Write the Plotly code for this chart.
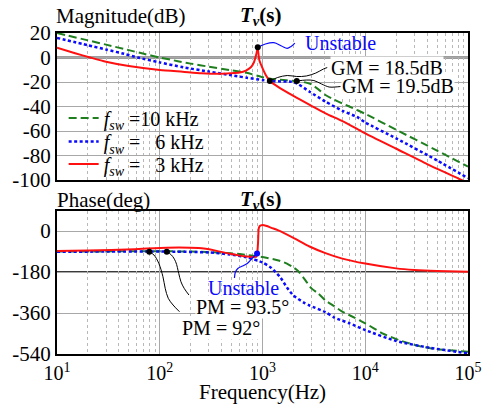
import plotly.graph_objects as go

# ---------------- loop gain Tv(s): magnitude (dB) ----------------
f_mag_10k = [10, 20, 30, 50, 70, 100, 150, 200, 300, 500, 700, 1000, 1300, 1700, 2150,
             2600, 3000, 3500, 4100, 5000, 7000, 10000, 20000, 50000, 100000]
mag_10k = [20, 14, 10.5, 6, 3, 0, -3, -5, -7.5, -10.5, -12.5, -16, -17.8, -18.6, -19.2,
           -20.3, -22, -26, -30.6, -34.5, -40, -46, -59, -76, -89]

f_mag_6k = [10, 20, 30, 45, 61, 100, 170, 300, 500, 700, 1000, 1178, 1500, 1900, 2200,
            2870, 4100, 6000, 8300, 10000, 20000, 50000, 100000]
mag_6k = [16, 10, 6.5, 3, 0, -4, -8, -11.5, -14.5, -16.5, -18.4, -19.2, -19.5, -19.8, -21.5,
          -27.9, -36, -43.5, -48.5, -53, -66, -84, -98.5]

# 3 kHz: split at the resonant peak so the cusp stays sharp
f_mag_3k_lo = [10, 15, 21, 30, 50, 100, 167, 255, 400, 484, 600, 690, 770, 826, 866, 899]
mag_3k_lo = [8, 3.5, 0, -3.5, -7, -10.2, -11.6, -12.8, -13.2, -12.9, -12.3, -10.7, -8, -3.9, 2, 8.3]
f_mag_3k_hi = [899, 931, 986, 1075, 1178, 1406, 2000, 3000, 4100, 6000, 8000, 10000, 20000,
               40000, 80000, 100000]
mag_3k_hi = [8.3, -2, -7.5, -14.3, -19.2, -23.8, -31.4, -39.5, -45.6, -52, -57.5, -62, -74.5,
             -87, -98.6, -102.5]

# ---------------- loop gain Tv(s): phase (deg) ----------------
f_ph_10k = [10, 100, 200, 400, 600, 1000, 1400, 1730, 2000, 2150, 2300, 2480, 3000, 3500,
            4100, 5000, 5870, 7200, 10000, 14700, 21000, 30000, 43000, 60000, 100000]
ph_10k = [-90, -89, -90, -95, -101, -114, -128, -143, -160, -170, -183, -202, -252, -275,
          -305, -330, -352, -372, -405, -449, -478, -500, -515, -522, -530]

f_ph_6k = [10, 100, 300, 484, 700, 1000, 1220, 1500, 1730, 2000, 2500, 2870, 4100, 5000,
           7000, 10000, 20000, 43000, 100000]
ph_6k = [-91, -90, -94, -103, -115, -138, -162, -205, -248, -283, -313, -327, -356, -380,
         -405, -435, -483, -513, -537]

f_ph_3k = [10, 20, 57, 117, 238, 350, 484, 600, 700, 800, 870, 888, 905, 918, 940, 1000,
           1100, 1220, 1406, 2000, 2870, 4100, 5870, 10000, 20000, 30000, 50000, 100000]
ph_3k = [-88, -86, -80, -73, -75, -86, -100, -108, -112, -114, -113, -100, -50, 10, 22, 27,
         22, 14, 4, -30, -68, -97, -120, -143, -164, -171, -176, -179]

# ---------------- marked points ----------------
unstable_mag_f, unstable_mag_v = [899], [8.3]
gm_f, gm_v = [1178, 2154], [-19.2, -19.2]
unstable_ph_f, unstable_ph_v = [885], [-98.8]
pm_f, pm_v = [79.1, 117], [-90.9, -90.9]

# leader lines from labels to marked points (frequency, value)
lead_unst_mag = ([899, 1067, 1291, 1531, 1741, 1896, 2064],
                 [8.3, 11.0, 12.1, 9.4, 7.5, 9.0, 11.8])
lead_gm185 = ([1178, 1406, 1741, 2154, 2666, 3300, 3914, 4266],
              [-19.2, -16.3, -14.7, -15.5, -15.1, -12.7, -9.4, -8.2])
lead_gm195 = ([2154, 2666, 3162, 3751, 4450, 5054, 5743],
              [-19.2, -18.4, -18.8, -21.6, -24.1, -24.1, -23.7])
lead_unst_ph = ([885, 791, 711, 640, 575, 545, 533],
                [-98.8, -120.7, -142.7, -153.7, -164.6, -180, -206.3])
lead_pm92 = ([79.1, 87.9, 97.9, 107.4, 113, 121, 134.8, 155.6],
             [-90.9, -105.4, -141.8, -200.6, -251.5, -295.4, -324.9, -354.3])
lead_pm935 = ([117, 130, 142.8, 153, 160.8, 172.8, 192.4],
              [-90.9, -105.4, -134.8, -185.7, -222.6, -251.5, -281])

mag_ticks = [20, 0, -20, -40, -60, -80, -100]
ph_ticks = [0, -180, -360, -540]
freq_ticks = [10, 100, 1000, 10000, 100000]
freq_ticktext = ["10<sup>1</sup>", "10<sup>2</sup>", "10<sup>3</sup>", "10<sup>4</sup>", "10<sup>5</sup>"]
minor_ticks = [m * 10 ** e for e in range(1, 5) for m in range(2, 10)]

GREEN = "#1f7f1f"
BLUE = "#0a0aff"
RED = "#ff1010"
FONT = "'Liberation Serif', 'Times New Roman', Times, serif"

legend_names = [
    "<i>f</i><sub><i>sw</i></sub> =10 kHz",
    "<i>f</i><sub><i>sw</i></sub> =\u2007\u00a06 kHz",
    "<i>f</i><sub><i>sw</i></sub> =\u2007\u00a03 kHz",
]

green_line = dict(color=GREEN, width=2, dash="8px,4px")
blue_line = dict(color=BLUE, width=2.5, dash="3px,2.5px")
red_line = dict(color=RED, width=2)

fig = go.Figure()

def curve(x, y, line, xa, ya, name=None, legend=None, smooth=0.6):
    fig.add_trace(go.Scatter(
        x=x, y=y, mode="lines", line=dict(shape="spline", smoothing=smooth, **line),
        name=name, showlegend=legend is not None, legend=legend or "legend",
        xaxis=xa, yaxis=ya, hoverinfo="skip"))

# magnitude
curve(f_mag_10k, mag_10k, green_line, "x", "y", legend_names[0], "legend")
curve(f_mag_6k, mag_6k, blue_line, "x", "y", legend_names[1], "legend2")
curve(f_mag_3k_lo, mag_3k_lo, red_line, "x", "y", legend_names[2], "legend3")
curve(f_mag_3k_hi, mag_3k_hi, red_line, "x", "y")

# phase
curve(f_ph_10k, ph_10k, green_line, "x2", "y2")
curve(f_ph_6k, ph_6k, blue_line, "x2", "y2")
curve(f_ph_3k, ph_3k, red_line, "x2", "y2", smooth=0.5)

# leaders
thin_black = dict(color="black", width=1)
thin_blue = dict(color=BLUE, width=1.2)
curve(*lead_unst_mag, thin_blue, "x", "y", smooth=1)
curve(*lead_gm185, thin_black, "x", "y", smooth=1)
curve(*lead_gm195, thin_black, "x", "y", smooth=1)
curve(*lead_unst_ph, thin_blue, "x2", "y2", smooth=1)
curve(*lead_pm92, thin_black, "x2", "y2", smooth=1)
curve(*lead_pm935, thin_black, "x2", "y2", smooth=1)

def dots(x, y, color, xa, ya):
    fig.add_trace(go.Scatter(x=x, y=y, mode="markers", marker=dict(color=color, size=6),
                             showlegend=False, xaxis=xa, yaxis=ya, hoverinfo="skip"))

dots(unstable_mag_f, unstable_mag_v, "black", "x", "y")
dots(gm_f, gm_v, "black", "x", "y")
dots(unstable_ph_f, unstable_ph_v, BLUE, "x2", "y2")
dots(pm_f, pm_v, "black", "x2", "y2")

# layout geometry (pixels of the 494x407 canvas)
L, T, R, B = 48, 33, 480, 354
MAG_BOTTOM, PH_TOP = 180, 211
def px(x):
    return (x - L) / (R - L)
def py(y):
    return (B - y) / (B - T)

axis_common = dict(
    showline=True, mirror=True, linecolor="black", linewidth=2,
    showgrid=True, gridcolor="#a8a8a8", gridwidth=1, zeroline=False, ticks="",
)
x_common = dict(
    type="log", range=[1, 5], tickvals=freq_ticks, ticktext=freq_ticktext,
    tickfont=dict(family=FONT, size=20, color="black"),
    minor=dict(tickvals=minor_ticks, showgrid=True, gridcolor="#b8b8b8",
               griddash="dot", gridwidth=1, ticks=""),
    **axis_common,
)
y_tickfont = dict(family=FONT, size=21, color="black")

def legend_box(row_y):
    return dict(x=px(55), y=py(row_y), xanchor="left", yanchor="middle",
                bgcolor="rgba(255,255,255,0)", borderwidth=0,
                font=dict(family=FONT, size=20, color="black"), itemwidth=30)

fig.update_layout(
    width=494, height=407,
    margin=dict(l=L, r=494 - R, t=T, b=407 - B),
    paper_bgcolor="white", plot_bgcolor="white",
    font=dict(family=FONT, size=20, color="black"),
    xaxis=dict(domain=[0, 1], anchor="y", showticklabels=False, **x_common),
    xaxis2=dict(domain=[0, 1], anchor="y2", matches="x", **x_common),
    yaxis=dict(domain=[py(MAG_BOTTOM), 1], anchor="x", range=[-100, 20], tickvals=mag_ticks,
               ticktext=[str(v) for v in mag_ticks], tickfont=y_tickfont, **axis_common),
    yaxis2=dict(domain=[0, py(PH_TOP)], anchor="x2", range=[-540, 88], tickvals=ph_ticks,
                ticktext=[str(v) for v in ph_ticks], tickfont=y_tickfont, **axis_common),
    legend=legend_box(118),
    legend2=legend_box(141.5),
    legend3=legend_box(164),
    showlegend=True,
)

# white panel behind the legend (covers the grid, sits under the traces)
fig.add_shape(type="rect", xref="x domain", yref="y domain",
              x0=(57 - L) / (R - L), x1=(200 - L) / (R - L),
              y0=(MAG_BOTTOM - 178) / (MAG_BOTTOM - T), y1=(MAG_BOTTOM - 108) / (MAG_BOTTOM - T),
              fillcolor="white", line=dict(width=0), layer="below")

# emphasised reference lines: 0 dB and -180 deg
fig.add_shape(type="line", xref="x domain", yref="y", x0=0, x1=1, y0=0, y1=0,
              line=dict(color="#3a3a3a", width=2), layer="below")
fig.add_shape(type="line", xref="x2 domain", yref="y2", x0=0, x1=1, y0=-180, y1=-180,
              line=dict(color="#3a3a3a", width=2), layer="below")

def label(text, x, y, xanchor="left", color="black", size=20, bg=None):
    fig.add_annotation(text=text, xref="paper", yref="paper", x=px(x), y=py(y),
                       xanchor=xanchor, yanchor="middle", showarrow=False,
                       font=dict(family=FONT, size=size, color=color),
                       bgcolor=bg, borderpad=0)

label("Magnitude(dB)", 46, 16, size=21)
label("<b><i>T</i><sub><i>v</i></sub>(s)</b>", 262, 16, xanchor="center", size=21)
label("Phase(deg)", 47, 200, size=21)
label("<b><i>T</i><sub><i>v</i></sub>(s)</b>", 262, 200, xanchor="center", size=21)
label("Frequency(Hz)", 264, 392, xanchor="center", size=21)

label("Unstable", 308, 43, color=BLUE)
label("GM = 18.5dB", 335, 68, bg="white")
label("GM = 19.5dB", 347, 86, bg="white")
label("Unstable", 244, 288, xanchor="center", color=BLUE)
label("PM = 93.5°", 193, 306.5, bg="white")
label("PM = 92°", 178, 328, bg="white")

fig.write_html("out.html")
